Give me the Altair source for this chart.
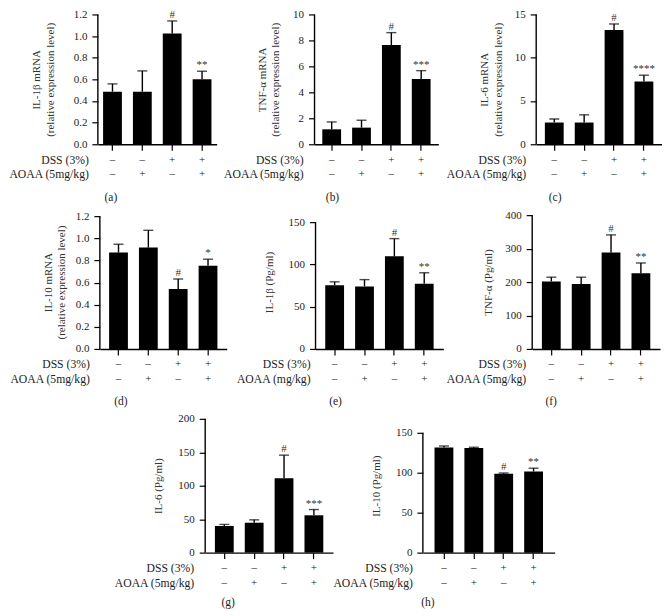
import altair as alt
import pandas as pd

SERIF = "Liberation Serif"

groups = ["1", "2", "3", "4"]
dss_signs = ["–", "–", "+", "+"]
aoaa_signs = ["–", "+", "–", "+"]
dss_label = "DSS (3%)"

# (a) IL-1β mRNA
a_mean = [0.486, 0.486, 1.023, 0.600]
a_upper = [0.558, 0.678, 1.140, 0.675]
a_sig = ["", "", "#", "**"]
a_ticks = [0.0, 0.2, 0.4, 0.6, 0.8, 1.0, 1.2]
# (b) TNF-α mRNA
b_mean = [1.15, 1.28, 7.65, 5.02]
b_upper = [1.72, 1.85, 8.60, 5.67]
b_sig = ["", "", "#", "***"]
b_ticks = [0, 2, 4, 6, 8, 10]
# (c) IL-6 mRNA
c_mean = [2.51, 2.51, 13.2, 7.24]
c_upper = [2.92, 3.40, 13.9, 7.98]
c_sig = ["", "", "#", "****"]
c_ticks = [0, 5, 10, 15]
# (d) IL-10 mRNA
d_mean = [0.871, 0.916, 0.542, 0.751]
d_upper = [0.946, 1.072, 0.632, 0.811]
d_sig = ["", "", "#", "*"]
d_ticks = [0.0, 0.2, 0.4, 0.6, 0.8, 1.0, 1.2]
# (e) IL-1β (Pg/ml)
e_mean = [75.2, 74.0, 109.5, 77.1]
e_upper = [79.4, 82.0, 130.5, 90.1]
e_sig = ["", "", "#", "**"]
e_ticks = [0, 50, 100, 150]
# (f) TNF-α (Pg/ml)
f_mean = [201.9, 194.2, 288.0, 226.0]
f_upper = [214.5, 214.5, 341.0, 257.0]
f_sig = ["", "", "#", "**"]
f_ticks = [0, 100, 200, 300, 400]
# (g) IL-6 (Pg/ml)
g_mean = [39.9, 44.7, 111.0, 55.8]
g_upper = [42.3, 49.0, 145.7, 64.4]
g_sig = ["", "", "#", "***"]
g_ticks = [0, 50, 100, 150, 200]
# (h) IL-10 (Pg/ml)
h_mean = [131.5, 131.1, 98.9, 101.7]
h_upper = [133.5, 131.9, 99.7, 105.7]
h_sig = ["", "", "#", "**"]
h_ticks = [0, 50, 100, 150]

mrna2 = "(relative expression level)"

panels = {
    "a": dict(mean=a_mean, upper=a_upper, sig=a_sig, ticks=a_ticks, fmt=".1f",
              title=["IL-1β mRNA", mrna2], aoaa="AOAA (5mg/kg)", letter="(a)"),
    "b": dict(mean=b_mean, upper=b_upper, sig=b_sig, ticks=b_ticks, fmt="d",
              title=["TNF-α mRNA", mrna2], aoaa="AOAA (5mg/kg)", letter="(b)"),
    "c": dict(mean=c_mean, upper=c_upper, sig=c_sig, ticks=c_ticks, fmt="d",
              title=["IL-6 mRNA", mrna2], aoaa="AOAA (5mg/kg)", letter="(c)"),
    "d": dict(mean=d_mean, upper=d_upper, sig=d_sig, ticks=d_ticks, fmt=".1f",
              title=["IL-10 mRNA", mrna2], aoaa="AOAA (5mg/kg)", letter="(d)"),
    "e": dict(mean=e_mean, upper=e_upper, sig=e_sig, ticks=e_ticks, fmt="d",
              title="IL-1β (Pg/ml)", aoaa="AOAA (mg/kg)", letter="(e)"),
    "f": dict(mean=f_mean, upper=f_upper, sig=f_sig, ticks=f_ticks, fmt="d",
              title="TNF-α (Pg/ml)", aoaa="AOAA (5mg/kg)", letter="(f)"),
    "g": dict(mean=g_mean, upper=g_upper, sig=g_sig, ticks=g_ticks, fmt="d",
              title="IL-6 (Pg/ml)", aoaa="AOAA (5mg/kg)", letter="(g)"),
    "h": dict(mean=h_mean, upper=h_upper, sig=h_sig, ticks=h_ticks, fmt="d",
              title="IL-10 (Pg/ml)", aoaa="AOAA (5mg/kg)", letter="(h)"),
}

# layout (pixels): width, band outer padding, visible axis height,
# label offsets and y-title padding
layout = {
    "a": dict(w=119, po=0.175, h=130, ldx=9, lx=13, ly=54, tp=18),
    "b": dict(w=124, po=0.26, h=130, ldx=11, lx=18, ly=54, tp=12),
    "c": dict(w=126, po=0.29, h=130, ldx=10, lx=19, ly=54, tp=11),
    "d": dict(w=127, po=0.31, h=133, ldx=10, lx=21, ly=53, tp=8.5),
    "e": dict(w=128, po=0.325, h=127, ldx=5, lx=20, ly=53, tp=13.5),
    "f": dict(w=128, po=0.325, h=134, ldx=6, lx=19, ly=53, tp=11.5),
    "g": dict(w=128, po=0.325, h=134, ldx=11, lx=23, ly=50, tp=14.5),
    "h": dict(w=132, po=0.39, h=120, ldx=10, lx=5, ly=50, tp=13.5),
}

ROW_H = {1: 130, 2: 134, 3: 134}


def make_panel(key, H):
    p = panels[key]
    L = layout[key]
    df = pd.DataFrame({"g": groups, "mean": p["mean"], "upper": p["upper"],
                       "sig": p["sig"], "dss": dss_signs, "aoaa": aoaa_signs})
    top = p["ticks"][-1]
    dmax = top * H / L["h"]
    xaxis = alt.Axis(labels=False, title=None, ticks=True, tickSize=6,
                     domain=True, grid=False)
    xscale = alt.Scale(paddingInner=0.37, paddingOuter=L["po"])
    yaxis = alt.Axis(values=p["ticks"], format=p["fmt"], title=p["title"],
                     domain=False, tickSize=6, grid=False, labelPadding=5,
                     titlePadding=L["tp"])
    yscale = alt.Scale(domain=[0, dmax], nice=False, zero=True)

    def X():
        return alt.X("g:N", sort=groups, scale=xscale, axis=xaxis)

    def Y(field):
        return alt.Y(field, scale=yscale, axis=yaxis)

    base = alt.Chart(df)
    bars = base.mark_bar(color="black").encode(x=X(), y=Y("mean:Q"))
    err = base.mark_rule(color="black", strokeWidth=1.4).encode(
        x=X(), y=Y("mean:Q"), y2="upper:Q")
    cap = base.mark_tick(color="black", size=10, thickness=1.4).encode(
        x=X(), y=Y("upper:Q"))
    sig = base.mark_text(font=SERIF, fontSize=11, baseline="alphabetic",
                         dy=-3, color="#333").encode(
        x=X(), y=Y("upper:Q"), text="sig:N")
    dss = base.mark_text(font=SERIF, fontSize=11, baseline="middle",
                         color="#222").encode(
        x=X(), y=alt.value(H + 15.5), text="dss:N")
    aoaa = base.mark_text(font=SERIF, fontSize=11, baseline="middle",
                          color="#222").encode(
        x=X(), y=alt.value(H + 30), text="aoaa:N")
    l1 = alt.Chart(pd.DataFrame({"t": [dss_label]})).mark_text(
        font=SERIF, fontSize=11.7, align="right", baseline="middle",
        color="#222").encode(x=alt.value(-L["ldx"]), y=alt.value(H + 15.5),
                             text="t:N")
    l2 = alt.Chart(pd.DataFrame({"t": [p["aoaa"]]})).mark_text(
        font=SERIF, fontSize=11.7, align="right", baseline="middle",
        color="#222").encode(x=alt.value(-L["ldx"]), y=alt.value(H + 30),
                             text="t:N")
    letter = alt.Chart(pd.DataFrame({"t": [p["letter"]]})).mark_text(
        font=SERIF, fontSize=11.5, align="center", baseline="middle",
        color="#222").encode(x=alt.value(L["lx"]), y=alt.value(H + L["ly"]),
                             text="t:N")
    yline = alt.Chart(pd.DataFrame({"lo": [0], "hi": [top]})).mark_rule(
        color="black", strokeWidth=1.4).encode(
        x=alt.value(0), y=Y("lo:Q"), y2="hi:Q")
    return alt.layer(bars, err, cap, sig, dss, aoaa, l1, l2, letter,
                     yline).properties(width=L["w"], height=H)


row1 = alt.hconcat(make_panel("a", ROW_H[1]), make_panel("b", ROW_H[1]),
                   make_panel("c", ROW_H[1]), spacing=98, bounds="flush")
row2 = alt.hconcat(make_panel("d", ROW_H[2]), make_panel("e", ROW_H[2]),
                   make_panel("f", ROW_H[2]), spacing=89, bounds="flush")
row3 = alt.hconcat(make_panel("g", ROW_H[3]), make_panel("h", ROW_H[3]),
                   spacing=90, bounds="flush")

chart = alt.vconcat(row1, row2, row3, spacing=5, center=True).properties(
    padding={"left": 0, "right": 0, "top": 0, "bottom": 0}
).configure_view(stroke=None).configure_axis(
    labelFont=SERIF, titleFont=SERIF, labelFontSize=11, titleFontSize=11,
    titleFontWeight="normal", labelColor="#222", titleColor="#333",
    domainColor="black", tickColor="black", domainWidth=1.4, tickWidth=1.2,
    titleLineHeight=13.5
).configure_text(font=SERIF)

chart.save("out.html", embed_options={"renderer": "svg", "actions": False})
